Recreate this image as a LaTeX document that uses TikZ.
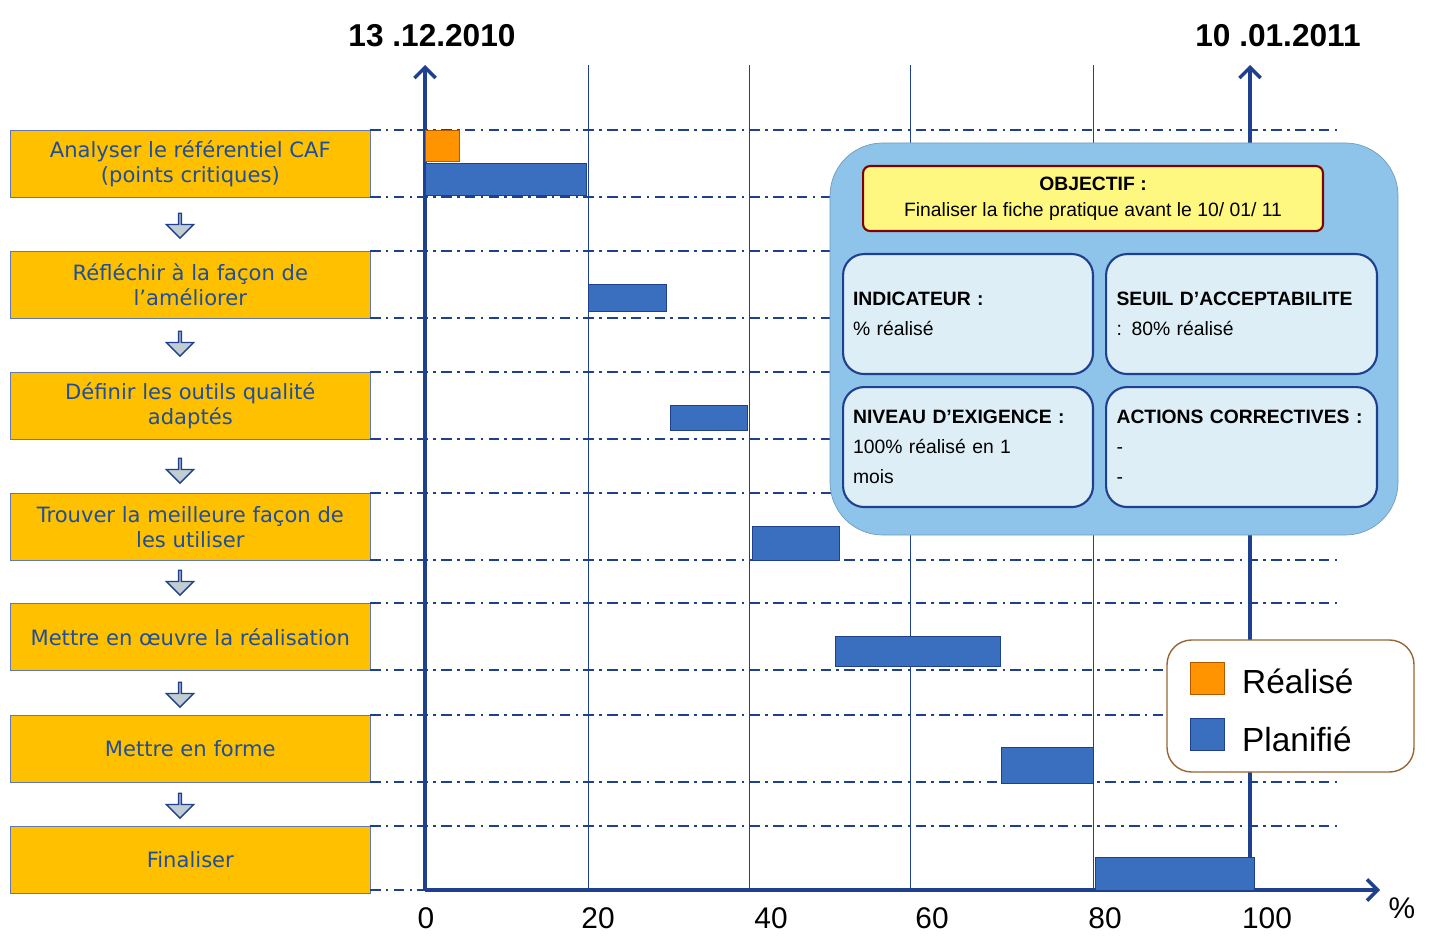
\documentclass[tikz,border=0pt]{standalone}
\usepackage{fontspec}
\setmainfont{Liberation Sans}
\newfontfamily\verd{DejaVu Sans}
\usetikzlibrary{arrows.meta,shapes.arrows}
\definecolor{axisblue}{HTML}{1F3F8F}
\definecolor{barblue}{HTML}{3A6FC0}
\definecolor{taskfill}{HTML}{FFC000}
\definecolor{tasktext}{HTML}{1F4E9A}
\definecolor{panel}{HTML}{8EC3EA}
\definecolor{cell}{HTML}{DDEEF6}
\tikzset{
  task/.style={draw=axisblue!70,fill=taskfill,text=tasktext,font=\verd\fontsize{12}{14}\selectfont,align=center,minimum width=7.2cm,minimum height=1.34cm,anchor=north west,inner sep=0pt},
  down/.style={single arrow,shape border rotate=270,draw=axisblue,thick,fill=cell!70!gray,minimum height=0.5cm,single arrow head extend=0.12cm,minimum width=0.55cm,inner sep=0pt},
  grid/.style={axisblue,thick,dash pattern=on 6pt off 3pt on 1.5pt off 3pt},
  bar/.style={draw=axisblue,fill=barblue},
  cellbox/.style={draw=axisblue,very thick,fill=cell,rounded corners=12pt,anchor=north west,minimum width=5cm,minimum height=2.4cm,align=left,text width=4.6cm,font=\fontsize{11}{17}\selectfont},
  tick/.style={font=\fontsize{17}{17}\selectfont}
}
\begin{document}
\begin{tikzpicture}[x=0.02cm,y=-0.02cm]
\useasboundingbox (0,0) rectangle (1452,952);
% tasks
\node[task] (t1) at (10,130) {Analyser le référentiel CAF\\(points critiques)};
\node[task] (t2) at (10,251) {Réfléchir à la façon de\\l’améliorer};
\node[task] (t3) at (10,372) {Définir les outils qualité\\adaptés};
\node[task] (t4) at (10,493) {Trouver la meilleure façon de\\les utiliser};
\node[task] (t5) at (10,603) {Mettre en œuvre la réalisation};
\node[task] (t6) at (10,715) {Mettre en forme};
\node[task] (t7) at (10,826) {Finaliser};
\foreach \y in {225,343,470,582,694,805}
  \node[down] at (180,\y) {};
% grid lines
\foreach \y in {130,197,251,318,372,439,493,560,603,670,715,782,826}
  \draw[grid] (370,\y) -- (1340,\y);
\draw[grid] (370,890) -- (425,890);
\foreach \x in {588,749,910,1093}
  \draw[axisblue] (\x,65) -- (\x,890);
% axes
\coordinate (o) at (425,890);
\coordinate (xe) at (1380,890);
\coordinate (ye) at (425,65);
\coordinate (fb) at (1250,890);
\coordinate (fe) at (1250,65);
\draw[axisblue,line width=2pt,-{Straight Barb[length=6pt,width=12pt]}] (o) -- (xe);
\draw[axisblue,line width=2pt,-{Straight Barb[length=6pt,width=12pt]}] (o) -- (ye);
\draw[axisblue,line width=2pt,-{Straight Barb[length=6pt,width=12pt]}] (fb) -- (fe);
\foreach \x/\l in {426/0,598/20,771/40,932/60,1105/80,1267/100}
  \node[tick] at (\x,918) {\l};
\node[tick] at (1402,908) {\%};
\node[font=\bfseries\fontsize{18}{18}\selectfont] (d1) at (432,36) {13 .12.2010};
\node[font=\bfseries\fontsize{18}{18}\selectfont] (d2) at (1278,36) {10 .01.2011};
% bars
\draw[draw=orange!70!black,fill=orange!85!yellow] (425,130) rectangle (459,161);
\draw[bar] (425,163) rectangle (586,195);
\draw[bar] (588,284) rectangle (666,311);
\draw[bar] (670,405) rectangle (747,430);
\draw[bar] (752,526) rectangle (839,560);
\draw[bar] (835,636) rectangle (1000,666);
\draw[bar] (1001,747) rectangle (1093,783);
\draw[bar] (1095,857) rectangle (1254,890);
% panel
\draw[draw=panel!80!black,fill=panel,rounded corners=30pt] (830,143) rectangle (1398,535);
\node[draw=red!50!black,very thick,fill=yellow!50,rounded corners=4pt,minimum width=9.2cm,minimum height=1.3cm,anchor=north west,align=center,font=\fontsize{11}{15}\selectfont] (obj) at (862,165) {\textbf{OBJECTIF :}\\Finaliser la fiche pratique avant le 10/ 01/ 11};
\node[cellbox] (ind) at (842,253) {\textbf{INDICATEUR :}\\\% réalisé};
\node[cellbox,minimum width=5.42cm,text width=5cm] (seuil) at (1105,253) {\textbf{SEUIL D’ACCEPTABILITE}\\: 80\% réalisé};
\node[cellbox] (niv) at (842,386) {\textbf{NIVEAU D’EXIGENCE :}\\100\% réalisé en 1\\mois};
\node[cellbox,minimum width=5.42cm,text width=5cm] (act) at (1105,386) {\textbf{ACTIONS CORRECTIVES :}\\-\\-};
% legend
\draw[draw=brown!80!black,thick,fill=white,rounded corners=14pt] (1167,640) rectangle (1414,772);
\draw[draw=orange!70!black,fill=orange!85!yellow] (1190,662) rectangle (1224,694);
\draw[bar] (1190,718) rectangle (1224,750);
\node[anchor=west,font=\fontsize{19}{19}\selectfont] (lr) at (1236,681) {Réalisé};
\node[anchor=west,font=\fontsize{19}{19}\selectfont] (lp) at (1236,739) {Planifié};
\end{tikzpicture}
\end{document}
